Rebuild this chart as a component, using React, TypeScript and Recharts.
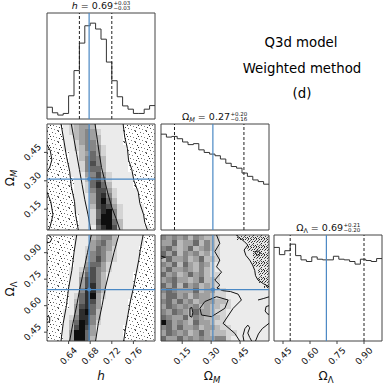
import React from "react";
import {
  ComposedChart,
  Line,
  XAxis,
  YAxis,
  ReferenceArea,
  ReferenceLine,
  ReferenceDot,
} from "recharts";

const FONT = "'DejaVu Sans', sans-serif";
const BLUE = "#4a88c4";
const EDGE = "#444";

type Dom = [number, number];

// parameter ranges and ticks
const hRange: Dom = [0.6, 0.8];
const omRange: Dom = [0.04, 0.6];
const olRange: Dom = [0.4, 1.0];
const hTicks = [0.64, 0.68, 0.72, 0.76];
const omTicks = [0.15, 0.3, 0.45];
const olTicks = [0.45, 0.6, 0.75, 0.9];
const countTicks = [60, 120, 180, 240, 300];
const countRange: Dom = [0, 324];

// truth values (blue) and 16/84% quantiles (dashed)
const truthH = 0.678;
const truthOm = 0.309;
const truthOl = 0.691;
const quantH = [0.66, 0.72];
const quantOm = [0.11, 0.47];
const quantOl = [0.49, 0.9];

// 1D histograms, 20 bins each
const hHist = [36, 19, 12, 17, 71, 148, 232, 285, 293, 275, 244, 174, 117, 68, 40, 30, 17, 17, 30, 41];
const omHist = [293, 284, 286, 279, 269, 261, 264, 245, 237, 232, 227, 217, 204, 194, 189, 174, 164, 153, 148, 140];
const olHist = [286, 264, 276, 296, 261, 248, 243, 257, 250, 248, 248, 259, 250, 248, 243, 235, 250, 246, 243, 252];

// 2D densities, rows top -> bottom. 1-9 grey level, s/d = scattered samples
const densHOm = [
  "sss12344311111ssssss",
  "sss12345421111ssssss",
  "sss11345431111ssssss",
  "sss11245531111ssssss",
  "sss112355421111sssss",
  "ssss11346421111sssss",
  "ssss11356531111sssss",
  "ssss11257531111sssss",
  "ssss11256631111sssss",
  "ssss111457421111ssss",
  "sssss11367521111ssss",
  "sssss11268631111ssss",
  "sssss112577421111sss",
  "sssss111478521111sss",
  "sssss111479631111sss",
  "sssss1113787421111ss",
  "sssss1112689521111ss",
  "ssssss112699521111ss",
  "ssssss112799631111ss",
  "ssssss1116897311111s",
];
const densHOl = [
  "sssss1113455311111ss",
  "sssss1114564311111ss",
  "sssss112465421111sss",
  "sssss112565321111sss",
  "sssss113575321111sss",
  "sssss114664211111sss",
  "ssss1125754211111sss",
  "ssss113675311111ssss",
  "ssss114775311111ssss",
  "ssss114785311111ssss",
  "ssss115885311111ssss",
  "ssss126894211111ssss",
  "ssss13687411111sssss",
  "ssss14786411111sssss",
  "sss114896311111sssss",
  "sss125885311111sssss",
  "sss136985211111sssss",
  "sss13797411111ssssss",
  "sss14996411111ssssss",
  "sss14996311111ssssss",
];
const densOmOl = [
  "54545354332111dddddd",
  "4463446353211111dddd",
  "5643463453211111dddd",
  "64635453422111111ddd",
  "36445346332111111ddd",
  "54636435421111111ddd",
  "464454353211111111dd",
  "645346453221111111dd",
  "456443463321111111dd",
  "6463645343211111111d",
  "56544463442211111111",
  "46645354432211111111",
  "56464534443321111111",
  "46545453433221111111",
  "54654364432211111111",
  "65446354333211111111",
  "96454364432211111111",
  "56464453443221111111",
  "46545346433322111111",
  "64464545445521111111",
];

// contour lines
const contHOm = [
  [[0.6, 0.49], [0.606, 0.46], [0.609, 0.41], [0.605, 0.37], [0.6, 0.35]],
  [[0.6, 0.24], [0.607, 0.19], [0.611, 0.12], [0.606, 0.06], [0.603, 0.04]],
  [[0.626, 0.6], [0.632, 0.5], [0.636, 0.43], [0.642, 0.35], [0.645, 0.27], [0.651, 0.19], [0.653, 0.12], [0.658, 0.04]],
  [[0.645, 0.6], [0.65, 0.52], [0.655, 0.44], [0.66, 0.36], [0.665, 0.28], [0.67, 0.2], [0.676, 0.12], [0.681, 0.04]],
  [[0.689, 0.6], [0.693, 0.52], [0.697, 0.44], [0.701, 0.37], [0.707, 0.3], [0.713, 0.23], [0.72, 0.16], [0.728, 0.1], [0.735, 0.04]],
  [[0.741, 0.6], [0.744, 0.53], [0.749, 0.47], [0.751, 0.41], [0.757, 0.36], [0.761, 0.3], [0.769, 0.24], [0.772, 0.18], [0.779, 0.12], [0.781, 0.08], [0.786, 0.04]],
];
const contHOl = [
  [[0.603, 1.0], [0.609, 0.98], [0.606, 0.96], [0.6, 0.955]],
  [[0.6, 0.54], [0.605, 0.535], [0.605, 0.51], [0.6, 0.505]],
  [[0.655, 1.0], [0.65, 0.9], [0.646, 0.8], [0.64, 0.7], [0.636, 0.6], [0.63, 0.5], [0.626, 0.4]],
  [[0.682, 1.0], [0.675, 0.9], [0.668, 0.8], [0.661, 0.7], [0.655, 0.6], [0.648, 0.5], [0.642, 0.4]],
  [[0.733, 1.0], [0.724, 0.9], [0.716, 0.8], [0.708, 0.7], [0.702, 0.6], [0.695, 0.5], [0.69, 0.4]],
  [[0.778, 1.0], [0.773, 0.92], [0.77, 0.86], [0.765, 0.78], [0.76, 0.7], [0.754, 0.62], [0.75, 0.55], [0.746, 0.48], [0.742, 0.4]],
];
const contOmOl = [
  [[0.328, 1.0], [0.345, 0.953], [0.319, 0.906], [0.345, 0.858], [0.328, 0.82], [0.354, 0.79], [0.319, 0.745], [0.345, 0.717], [0.33, 0.7], [0.36, 0.685], [0.4, 0.68], [0.44, 0.665], [0.457, 0.632], [0.414, 0.585], [0.362, 0.5], [0.423, 0.443], [0.448, 0.4]],
  [[0.267, 0.623], [0.328, 0.651], [0.388, 0.632], [0.371, 0.585], [0.302, 0.538], [0.25, 0.547], [0.242, 0.585], [0.267, 0.623]],
  [[0.19, 0.585], [0.2, 0.59], [0.205, 0.56], [0.2, 0.535], [0.19, 0.54], [0.19, 0.585]],
  [[0.431, 1.0], [0.44, 0.99], [0.47, 0.965], [0.49, 0.943], [0.471, 0.915], [0.48, 0.885], [0.5, 0.858], [0.515, 0.83], [0.526, 0.8], [0.53, 0.77], [0.543, 0.745], [0.57, 0.725], [0.6, 0.707]],
  [[0.525, 0.905], [0.545, 0.91], [0.555, 0.895], [0.54, 0.885], [0.525, 0.905]],
  [[0.47, 0.4], [0.465, 0.43], [0.475, 0.47], [0.49, 0.49], [0.5, 0.475], [0.49, 0.445], [0.5, 0.42], [0.51, 0.4]],
  [[0.53, 0.4], [0.545, 0.44], [0.565, 0.47], [0.6, 0.5]],
  [[0.6, 0.6], [0.585, 0.595], [0.58, 0.57], [0.59, 0.555], [0.6, 0.55]],
  [[0.543, 0.632], [0.57, 0.64], [0.6, 0.65]],
  [[0.04, 0.88], [0.065, 0.875], [0.04, 0.868]],
];

const SHADES = ["#ffffff", "#ebebeb", "#d4d4d4", "#bababa", "#a0a0a0", "#868686", "#6a6a6a", "#4e4e4e", "#2e2e2e", "#0e0e0e"];

// speckle dots for the scattered-sample texture (tile units)
const sparseDots = [[0, 0], [5, 1], [8, 2], [2, 3], [6, 5], [9, 6], [1, 7], [4, 8], [7, 9], [3, 5], [10, 10], [0, 10]];
const denseDots = [[0, 0], [3, 0], [5, 1], [1, 2], [6, 3], [3, 3], [0, 4], [4, 5], [7, 5], [2, 6], [5, 7], [1, 7], [6, 0], [7, 2], [2, 1], [4, 2], [0, 6], [6, 6], [3, 7]];

const PW = 108;
const PH = 106;
const AXL = 44;
const AXB = 44;
const PAD = 4;

function XTick(props: any) {
  const { x, y, payload } = props;
  return (
    <text transform={`translate(${x},${y + 10}) rotate(-45)`} textAnchor="middle" dominantBaseline="central" fontSize={9} fontFamily={FONT} fill="#111">
      {Number(payload.value).toFixed(2)}
    </text>
  );
}

function YTick(props: any) {
  const { x, y, payload } = props;
  return (
    <text transform={`translate(${x - 9.5},${y}) rotate(-45)`} textAnchor="middle" dominantBaseline="central" fontSize={9} fontFamily={FONT} fill="#111">
      {Number(payload.value).toFixed(2)}
    </text>
  );
}

function cells(rows: string[], xd: Dom, yd: Dom, id: string) {
  const out: React.ReactElement[] = [];
  const ny = rows.length;
  const dy = (yd[1] - yd[0]) / ny;
  rows.forEach((row, r) => {
    const nx = row.length;
    const dx = (xd[1] - xd[0]) / nx;
    row.split("").forEach((ch, c) => {
      if (ch === "0") return;
      const fill = ch === "s" ? "url(#stip)" : ch === "d" ? "url(#stipDense)" : SHADES[Number(ch)];
      out.push(
        <ReferenceArea
          key={`${id}-${r}-${c}`}
          x1={xd[0] + c * dx}
          x2={xd[0] + (c + 1) * dx}
          y1={yd[1] - (r + 1) * dy}
          y2={yd[1] - r * dy}
          fill={fill}
          fillOpacity={1}
          stroke="none"
          ifOverflow="visible"
          shapeRendering="crispEdges"
        />
      );
    });
  });
  return out;
}

function contours(lines: number[][][], id: string) {
  return lines.map((pts, i) => (
    <Line
      key={`${id}-c${i}`}
      data={pts.map(([x, y]) => ({ x, y }))}
      dataKey="y"
      type="linear"
      stroke="#111"
      strokeWidth={1}
      dot={false}
      isAnimationActive={false}
    />
  ));
}

function histLine(values: number[], xd: Dom) {
  const dx = (xd[1] - xd[0]) / values.length;
  const data = values.map((v, i) => ({ x: xd[0] + i * dx, y: v }));
  data.push({ x: xd[1], y: values[values.length - 1] });
  return <Line data={data} dataKey="y" type="stepAfter" stroke="#333" strokeWidth={1} dot={false} isAnimationActive={false} />;
}

function Panel(props: {
  left: number;
  top: number;
  xd: Dom;
  yd: Dom;
  xTicks: number[];
  yTicks: number[];
  xLabels?: boolean;
  yLabels?: boolean;
  children: React.ReactNode;
}) {
  const { left, top, xd, yd, xTicks, yTicks, xLabels, yLabels, children } = props;
  return (
    <div style={{ position: "absolute", left: left - AXL, top: top - PAD }}>
      <ComposedChart width={AXL + PW + PAD} height={PAD + PH + AXB} margin={{ top: PAD, right: PAD, bottom: 0, left: 0 }}>
        <XAxis
          type="number"
          dataKey="x"
          domain={xd}
          ticks={xTicks}
          allowDataOverflow
          interval={0}
          height={AXB}
          axisLine={false}
          tickSize={3}
          tickLine={{ stroke: EDGE }}
          tick={xLabels ? <XTick /> : false}
        />
        <YAxis
          type="number"
          domain={yd}
          ticks={yTicks}
          allowDataOverflow
          interval={0}
          width={AXL}
          axisLine={false}
          tickSize={3}
          tickLine={{ stroke: EDGE }}
          tick={yLabels ? <YTick /> : false}
        />
        {children}
        <ReferenceArea x1={xd[0]} x2={xd[1]} y1={yd[0]} y2={yd[1]} fill="none" fillOpacity={0} stroke={EDGE} strokeWidth={1} ifOverflow="visible" />
      </ComposedChart>
    </div>
  );
}

function ParamTitle({ cx, y, shift, children, plus, minus }: any) {
  const x0 = cx + shift;
  return (
    <g fontFamily={FONT} fill="#111">
      <text x={x0} y={y} textAnchor="end" fontSize={9.5}>
        {children}
      </text>
      <text x={x0 + 0.5} y={y - 3.5} fontSize={5.5}>{plus}</text>
      <text x={x0 + 0.5} y={y + 1.8} fontSize={5.5}>{minus}</text>
    </g>
  );
}

export default function App() {
  return (
    <div style={{ position: "absolute", left: 0, top: 0, width: 387, height: 387, background: "#fff", overflow: "hidden" }}>
      <svg width={0} height={0} style={{ position: "absolute" }}>
        <defs>
          <pattern id="stip" width="11" height="11" patternUnits="userSpaceOnUse">
            <rect width="11" height="11" fill="#fff" />
            {sparseDots.map(([x, y], i) => (
              <rect key={i} x={x} y={y} width="1" height="1" fill={i % 3 === 0 ? "#333" : i % 3 === 1 ? "#666" : "#888"} />
            ))}
          </pattern>
          <pattern id="stipDense" width="8" height="8" patternUnits="userSpaceOnUse">
            <rect width="8" height="8" fill="#e6e6e6" />
            {denseDots.map(([x, y], i) => (
              <rect key={i} x={x} y={y} width="1" height="1" fill={i % 3 === 0 ? "#222" : i % 3 === 1 ? "#444" : "#666"} />
            ))}
          </pattern>
        </defs>
      </svg>

      {/* h histogram */}
      <Panel left={47} top={13} xd={hRange} yd={countRange} xTicks={hTicks} yTicks={countTicks}>
        {histLine(hHist, hRange)}
        <ReferenceLine x={quantH[0]} stroke="#222" strokeDasharray="3 2" />
        <ReferenceLine x={quantH[1]} stroke="#222" strokeDasharray="3 2" />
        <ReferenceLine x={truthH} stroke={BLUE} strokeWidth={1.2} />
      </Panel>

      {/* h vs Omega_M */}
      <Panel left={47} top={124} xd={hRange} yd={omRange} xTicks={hTicks} yTicks={omTicks} yLabels>
        {cells(densHOm, hRange, omRange, "hm")}
        {contours(contHOm, "hm")}
        <ReferenceLine x={truthH} stroke={BLUE} strokeWidth={1.2} />
        <ReferenceLine y={truthOm} stroke={BLUE} strokeWidth={1.2} />
        <ReferenceDot x={truthH} y={truthOm} r={2} fill={BLUE} stroke="none" />
      </Panel>

      {/* h vs Omega_L */}
      <Panel left={47} top={235} xd={hRange} yd={olRange} xTicks={hTicks} yTicks={olTicks} xLabels yLabels>
        {cells(densHOl, hRange, olRange, "hl")}
        {contours(contHOl, "hl")}
        <ReferenceLine x={truthH} stroke={BLUE} strokeWidth={1.2} />
        <ReferenceLine y={truthOl} stroke={BLUE} strokeWidth={1.2} />
        <ReferenceDot x={truthH} y={truthOl} r={2} fill={BLUE} stroke="none" />
      </Panel>

      {/* Omega_M histogram */}
      <Panel left={161} top={124} xd={omRange} yd={countRange} xTicks={omTicks} yTicks={countTicks}>
        {histLine(omHist, omRange)}
        <ReferenceLine x={quantOm[0]} stroke="#222" strokeDasharray="3 2" />
        <ReferenceLine x={quantOm[1]} stroke="#222" strokeDasharray="3 2" />
        <ReferenceLine x={truthOm} stroke={BLUE} strokeWidth={1.2} />
      </Panel>

      {/* Omega_M vs Omega_L */}
      <Panel left={161} top={235} xd={omRange} yd={olRange} xTicks={omTicks} yTicks={olTicks} xLabels>
        {cells(densOmOl, omRange, olRange, "ml")}
        {contours(contOmOl, "ml")}
        <ReferenceLine x={truthOm} stroke={BLUE} strokeWidth={1.2} />
        <ReferenceLine y={truthOl} stroke={BLUE} strokeWidth={1.2} />
        <ReferenceDot x={truthOm} y={truthOl} r={2} fill={BLUE} stroke="none" />
      </Panel>

      {/* Omega_L histogram */}
      <Panel left={274} top={235} xd={olRange} yd={countRange} xTicks={olTicks} yTicks={countTicks} xLabels>
        {histLine(olHist, olRange)}
        <ReferenceLine x={quantOl[0]} stroke="#222" strokeDasharray="3 2" />
        <ReferenceLine x={quantOl[1]} stroke="#222" strokeDasharray="3 2" />
        <ReferenceLine x={truthOl} stroke={BLUE} strokeWidth={1.2} />
      </Panel>

      <svg width={387} height={387} style={{ position: "absolute", left: 0, top: 0, pointerEvents: "none" }}>
        <ParamTitle cx={101} y={8.5} shift={12} plus="+0.03" minus="−0.03">
          <tspan fontStyle="italic">h</tspan> = 0.69
        </ParamTitle>
        <ParamTitle cx={215} y={119.5} shift={15} plus="+0.20" minus="−0.16">
          Ω<tspan fontSize={6.5} fontStyle="italic" dy={2}>M</tspan>
          <tspan dy={-2}> = 0.27</tspan>
        </ParamTitle>
        <ParamTitle cx={328} y={230.5} shift={15} plus="+0.21" minus="−0.20">
          Ω<tspan fontSize={6.5} dy={2}>Λ</tspan>
          <tspan dy={-2}> = 0.69</tspan>
        </ParamTitle>

        <g fontFamily={FONT} fill="#000" fontSize={13.3} textAnchor="middle">
          <text x={301} y={46.5}>Q3d model</text>
          <text x={302} y={73}>Weighted method</text>
          <text x={302} y={98}>(d)</text>
        </g>

        <g fontFamily={FONT} fill="#111" fontSize={12} textAnchor="middle">
          <text x={101} y={380} fontStyle="italic">h</text>
          <text x={212} y={380}>
            Ω<tspan fontSize={8.5} fontStyle="italic" dy={2.5}>M</tspan>
          </text>
          <text x={326} y={380}>
            Ω<tspan fontSize={8.5} dy={2.5}>Λ</tspan>
          </text>
          <text transform="translate(14,178) rotate(-90)">
            Ω<tspan fontSize={8.5} fontStyle="italic" dy={2.5}>M</tspan>
          </text>
          <text transform="translate(14,289) rotate(-90)">
            Ω<tspan fontSize={8.5} dy={2.5}>Λ</tspan>
          </text>
        </g>
      </svg>
    </div>
  );
}
